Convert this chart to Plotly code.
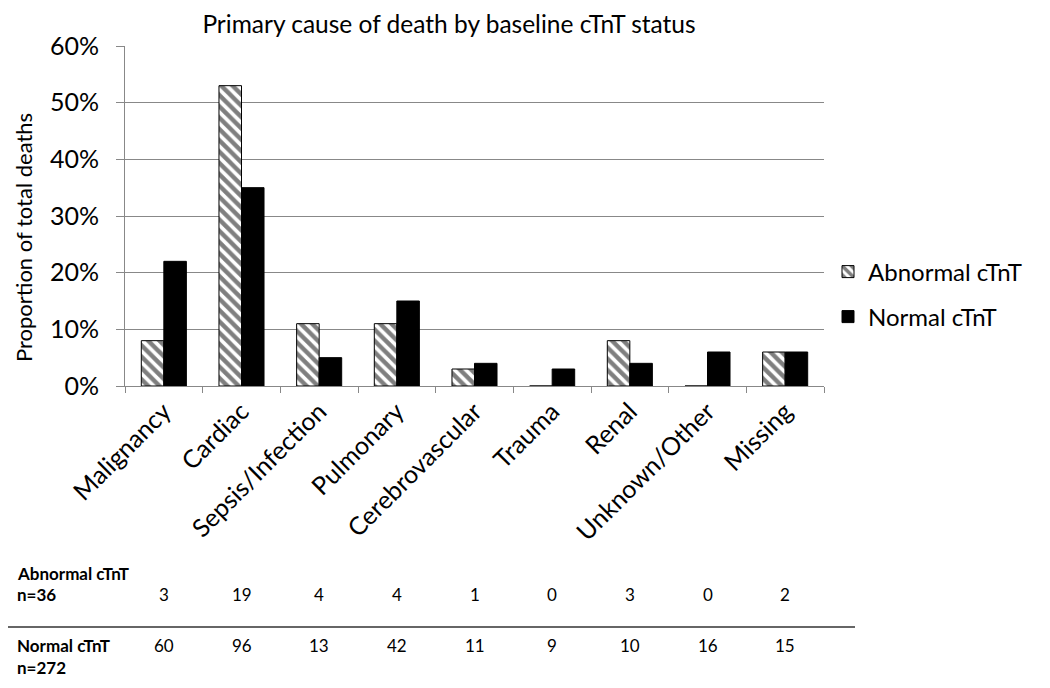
import plotly.graph_objects as go

categories = ["Malignancy", "Cardiac", "Sepsis/Infection", "Pulmonary", "Cerebrovascular",
              "Trauma", "Renal", "Unknown/Other", "Missing"]
abnormal_pct = [0.08, 0.53, 0.11, 0.11, 0.03, 0.0, 0.08, 0.0, 0.06]
normal_pct = [0.22, 0.35, 0.05, 0.15, 0.04, 0.03, 0.04, 0.06, 0.06]
abnormal_n = [3, 19, 4, 4, 1, 0, 3, 0, 2]
normal_n = [60, 96, 13, 42, 11, 9, 10, 16, 15]
yticks = [0, 0.1, 0.2, 0.3, 0.4, 0.5, 0.6]

FONT = "Lato, Calibri, Arial, sans-serif"

fig = go.Figure()
fig.add_trace(go.Bar(
    x=categories, y=abnormal_pct, name="Abnormal cTnT", legend="legend",
    marker=dict(color="white", line=dict(color="black", width=1),
                pattern=dict(shape="\\", fgcolor="black", bgcolor="white", size=8, solidity=0.55)),
))
fig.add_trace(go.Bar(
    x=categories, y=normal_pct, name="Normal cTnT", legend="legend2",
    marker=dict(color="black", line=dict(color="black", width=1)),
))

# page body has an 8px margin; work in screen pixels and convert
OFF = 8
W, H = 1034, 672
L, T = 125 - OFF, 46 - OFF
R = W - (824 - OFF)
B = H - (386 - OFF)
PW, PH = W - L - R, H - T - B


def px(x):
    return (x - OFF - L) / PW


def py(y):
    return (H - B - (y - OFF)) / PH


fig.update_layout(
    width=W, height=H,
    margin=dict(l=L, r=R, t=T, b=B, autoexpand=False),
    paper_bgcolor="white", plot_bgcolor="white",
    font=dict(family=FONT, color="black", size=20),
    showlegend=True,
    barmode="group", bargap=0.42, bargroupgap=0,
    title=dict(text="Primary cause of death by baseline cTnT status", x=(449 - OFF) / W,
               xanchor="center", y=1 - 16 / H, yanchor="middle", font=dict(size=24.5)),
    legend=dict(x=px(828), y=py(272), xanchor="left", yanchor="middle", font=dict(size=24),
                bgcolor="rgba(0,0,0,0)"),
    legend2=dict(x=px(828), y=py(317), xanchor="left", yanchor="middle", font=dict(size=24),
                 bgcolor="rgba(0,0,0,0)"),
    xaxis=dict(tickangle=-45, tickfont=dict(size=25), showline=True, linecolor="#888",
               linewidth=1, ticks="outside", tickson="boundaries", ticklen=6, tickcolor="#888",
               showgrid=False, automargin=False),
    yaxis=dict(range=[0, 0.6], tickvals=yticks, tickformat=".0%", tickfont=dict(size=25),
               showgrid=True, gridcolor="#888", gridwidth=1, showline=True, linecolor="#888",
               ticks="outside", ticklen=8, tickcolor="#888", zeroline=False,
               ticklabelstandoff=12, automargin=False),
)

ann = []
ann.append(dict(text="Proportion of total deaths", xref="paper", yref="paper",
                x=px(23), y=py(238), textangle=-90, xanchor="center", yanchor="middle",
                showarrow=False, font=dict(size=22)))
rows = [("<b>Abnormal cTnT</b>", 573), ("<b>n=36</b>", 594),
        ("<b>Normal cTnT</b>", 645), ("<b>n=272</b>", 667)]
for txt, yy in rows:
    ann.append(dict(text=txt, xref="paper", yref="paper", x=px(15), y=py(yy),
                    xanchor="left", yanchor="middle", showarrow=False, font=dict(size=17)))
for c, a, n in zip(categories, abnormal_n, normal_n):
    ann.append(dict(text=str(a), xref="x", yref="paper", x=c, y=py(594),
                    xanchor="center", yanchor="middle", showarrow=False, font=dict(size=17)))
    ann.append(dict(text=str(n), xref="x", yref="paper", x=c, y=py(645),
                    xanchor="center", yanchor="middle", showarrow=False, font=dict(size=17)))
fig.update_layout(annotations=ann)

fig.add_shape(type="line", xref="paper", yref="paper",
              x0=px(5), x1=px(855), y0=py(627), y1=py(627),
              line=dict(color="#666", width=2))

fig.write_html("out.html")
